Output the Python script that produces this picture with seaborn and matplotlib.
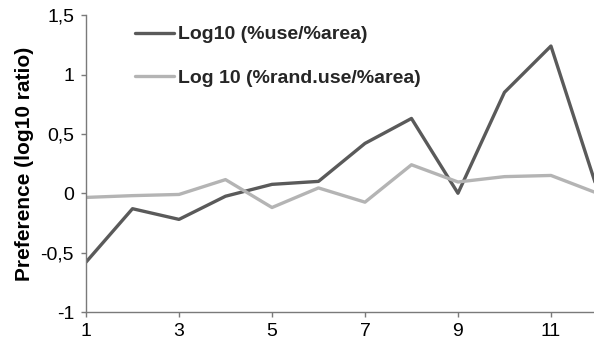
import matplotlib
matplotlib.use("Agg")
import matplotlib.pyplot as plt
import matplotlib.ticker as mticker
import seaborn as sns
import pandas as pd

# Habitat classes and log10 preference ratios
classes = [1, 2, 3, 4, 5, 6, 7, 8, 9, 10, 11, 12]
use_ratio = [-0.58, -0.13, -0.22, -0.025, 0.075, 0.10, 0.42, 0.63, 0.0, 0.85, 1.24, 0.03]
rand_ratio = [-0.035, -0.02, -0.01, 0.115, -0.12, 0.045, -0.075, 0.24, 0.095, 0.14, 0.15, 0.0]
series_names = ["Log10 (%use/%area)", "Log 10 (%rand.use/%area)"]
x_ticks = [1, 3, 5, 7, 9, 11]
y_ticks = [-1, -0.5, 0, 0.5, 1, 1.5]

df = pd.DataFrame({
    "class": classes * 2,
    "ratio": use_ratio + rand_ratio,
    "series": [series_names[0]] * len(classes) + [series_names[1]] * len(classes),
})

sns.set_theme(style="white")
plt.rcParams["font.family"] = ["Liberation Sans", "DejaVu Sans"]

fig = plt.figure(figsize=(5.94, 3.42), dpi=100)
ax = fig.add_axes([0.1448, 0.0877, 0.861, 0.868])

sns.lineplot(data=df, x="class", y="ratio", hue="series",
             palette=["#5a5a5a", "#b4b4b4"], linewidth=2.4, ax=ax,
             legend=True)

ax.set_xlim(1, 12)
ax.set_ylim(-1, 1.5)
ax.set_xticks(x_ticks)
ax.set_yticks(y_ticks)
ax.yaxis.set_major_formatter(mticker.FuncFormatter(
    lambda v, p: ("%g" % v).replace(".", ",")))

for side in ("top", "right"):
    ax.spines[side].set_visible(False)
for side in ("left", "bottom"):
    ax.spines[side].set_color("#7a7a7a")
    ax.spines[side].set_linewidth(1.0)

ax.tick_params(axis="both", which="major", direction="out", length=3.6,
               width=1.0, color="#7a7a7a", labelsize=14, labelcolor="black",
               left=True, bottom=True)
ax.tick_params(axis="x", pad=4)
ax.tick_params(axis="y", pad=5)

ax.set_xlabel("")
ax.set_ylabel("Preference (log10 ratio)", fontsize=15, fontweight="bold",
              color="black", labelpad=5)

leg = ax.legend(loc="upper left", bbox_to_anchor=(0.07, 1.01), frameon=False,
                prop={"size": 14, "weight": "bold"}, handlelength=2.0,
                handletextpad=0.2, labelspacing=1.35, borderaxespad=0.3)

fig.savefig("out.png", dpi=100)
